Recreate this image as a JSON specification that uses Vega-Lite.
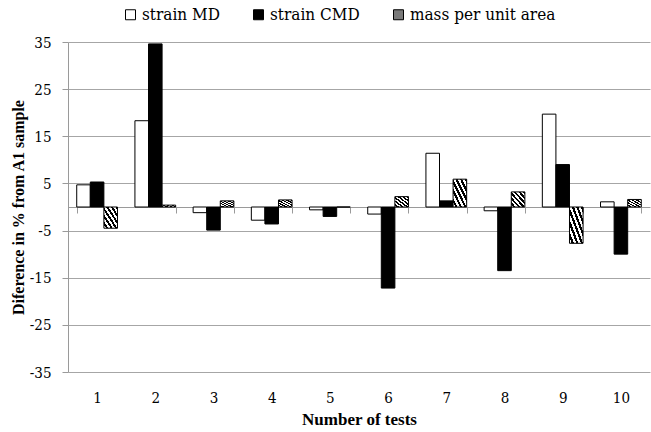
{
  "$schema": "https://vega.github.io/schema/vega-lite/v6.json",
  "width": 582,
  "height": 330,
  "autosize": {"type": "none"},
  "padding": {"left": 68, "top": 42, "right": 1, "bottom": 60},
  "background": "white",
  "config": {
    "view": {"stroke": null}
  },
  "data": {
    "values": [
      {"test": "1", "series": "strain MD", "value": 4.7},
      {"test": "1", "series": "strain CMD", "value": 5.3},
      {"test": "1", "series": "mass per unit area", "value": -4.5},
      {"test": "2", "series": "strain MD", "value": 18.3},
      {"test": "2", "series": "strain CMD", "value": 34.6},
      {"test": "2", "series": "mass per unit area", "value": 0.4},
      {"test": "3", "series": "strain MD", "value": -1.2},
      {"test": "3", "series": "strain CMD", "value": -4.9},
      {"test": "3", "series": "mass per unit area", "value": 1.3},
      {"test": "4", "series": "strain MD", "value": -2.8},
      {"test": "4", "series": "strain CMD", "value": -3.6},
      {"test": "4", "series": "mass per unit area", "value": 1.5},
      {"test": "5", "series": "strain MD", "value": -0.6},
      {"test": "5", "series": "strain CMD", "value": -2.0},
      {"test": "5", "series": "mass per unit area", "value": 0},
      {"test": "6", "series": "strain MD", "value": -1.5},
      {"test": "6", "series": "strain CMD", "value": -17.2},
      {"test": "6", "series": "mass per unit area", "value": 2.2},
      {"test": "7", "series": "strain MD", "value": 11.4},
      {"test": "7", "series": "strain CMD", "value": 1.3},
      {"test": "7", "series": "mass per unit area", "value": 5.9},
      {"test": "8", "series": "strain MD", "value": -0.8},
      {"test": "8", "series": "strain CMD", "value": -13.5},
      {"test": "8", "series": "mass per unit area", "value": 3.2},
      {"test": "9", "series": "strain MD", "value": 19.7},
      {"test": "9", "series": "strain CMD", "value": 9.0},
      {"test": "9", "series": "mass per unit area", "value": -7.7},
      {"test": "10", "series": "strain MD", "value": 1.1},
      {"test": "10", "series": "strain CMD", "value": -10.0},
      {"test": "10", "series": "mass per unit area", "value": 1.6}
    ]
  },
  "mark": {"type": "bar", "stroke": "black", "strokeWidth": 1},
  "encoding": {
    "x": {
      "field": "test",
      "type": "ordinal",
      "sort": ["1","2","3","4","5","6","7","8","9","10"],
      "scale": {"paddingInner": 0.3, "paddingOuter": 0.15},
      "axis": {
        "title": "Number of tests",
        "titleFont": "Liberation Serif",
        "titleFontSize": 17,
        "titleFontWeight": "bold",
        "titleColor": "black",
        "titlePadding": 6,
        "labelAngle": 0,
        "labelFont": "DejaVu Serif Condensed, DejaVu Serif",
        "labelFontSize": 15,
        "labelColor": "black",
        "labelPadding": 177,
        "offset": -165,
        "tickBand": "extent",
        "tickSize": 6,
        "tickColor": "#9a9a9a",
        "domainColor": "#9a9a9a",
        "grid": false
      }
    },
    "xOffset": {
      "field": "series",
      "type": "nominal",
      "sort": ["strain MD", "strain CMD", "mass per unit area"]
    },
    "y": {
      "field": "value",
      "type": "quantitative",
      "scale": {"domain": [-35, 35], "nice": false, "zero": false},
      "axis": {
        "title": "Diference in % from A1 sample",
        "titleFont": "Liberation Serif",
        "titleFontSize": 16,
        "titleFontWeight": "bold",
        "titleColor": "black",
        "titlePadding": 3,
        "values": [-35, -25, -15, -5, 5, 15, 25, 35],
        "labelExpr": "toString(datum.value)",
        "labelFont": "DejaVu Serif Condensed, DejaVu Serif",
        "labelFontSize": 15,
        "labelColor": "black",
        "labelPadding": 11,
        "tickSize": 6,
        "tickColor": "#9a9a9a",
        "domainColor": "#9a9a9a",
        "gridColor": "#a6a6a6",
        "grid": true
      }
    },
    "fill": {
      "condition": {
        "test": "datum.series === 'mass per unit area'",
        "value": {
          "gradient": "linear",
          "x1": 0, "y1": 1, "x2": 1, "y2": 0,
          "stops": [
            {"offset": 0, "color": "white"},
            {"offset": 0.0833, "color": "white"},
            {"offset": 0.0833, "color": "black"},
            {"offset": 0.1667, "color": "black"},
            {"offset": 0.1667, "color": "white"},
            {"offset": 0.25, "color": "white"},
            {"offset": 0.25, "color": "black"},
            {"offset": 0.3333, "color": "black"},
            {"offset": 0.3333, "color": "white"},
            {"offset": 0.4167, "color": "white"},
            {"offset": 0.4167, "color": "black"},
            {"offset": 0.5, "color": "black"},
            {"offset": 0.5, "color": "white"},
            {"offset": 0.5833, "color": "white"},
            {"offset": 0.5833, "color": "black"},
            {"offset": 0.6667, "color": "black"},
            {"offset": 0.6667, "color": "white"},
            {"offset": 0.75, "color": "white"},
            {"offset": 0.75, "color": "black"},
            {"offset": 0.8333, "color": "black"},
            {"offset": 0.8333, "color": "white"},
            {"offset": 0.9167, "color": "white"},
            {"offset": 0.9167, "color": "black"},
            {"offset": 1, "color": "black"}
          ]
        }
      },
      "field": "series",
      "type": "nominal",
      "sort": ["strain MD", "strain CMD", "mass per unit area"],
      "scale": {
        "domain": ["strain MD", "strain CMD", "mass per unit area"],
        "range": ["white", "black", "#7a7a7a"]
      },
      "legend": {
        "title": null,
        "orient": "none",
        "direction": "horizontal",
        "legendX": 54,
        "legendY": -36,
        "symbolType": "square",
        "symbolSize": 100,
        "symbolStrokeColor": "black",
        "symbolStrokeWidth": 1,
        "symbolOpacity": 1,
        "labelFont": "DejaVu Serif Condensed, DejaVu Serif",
        "labelFontSize": 17,
        "labelColor": "black",
        "labelOffset": 3,
        "columnPadding": 30
      }
    }
  }
}
